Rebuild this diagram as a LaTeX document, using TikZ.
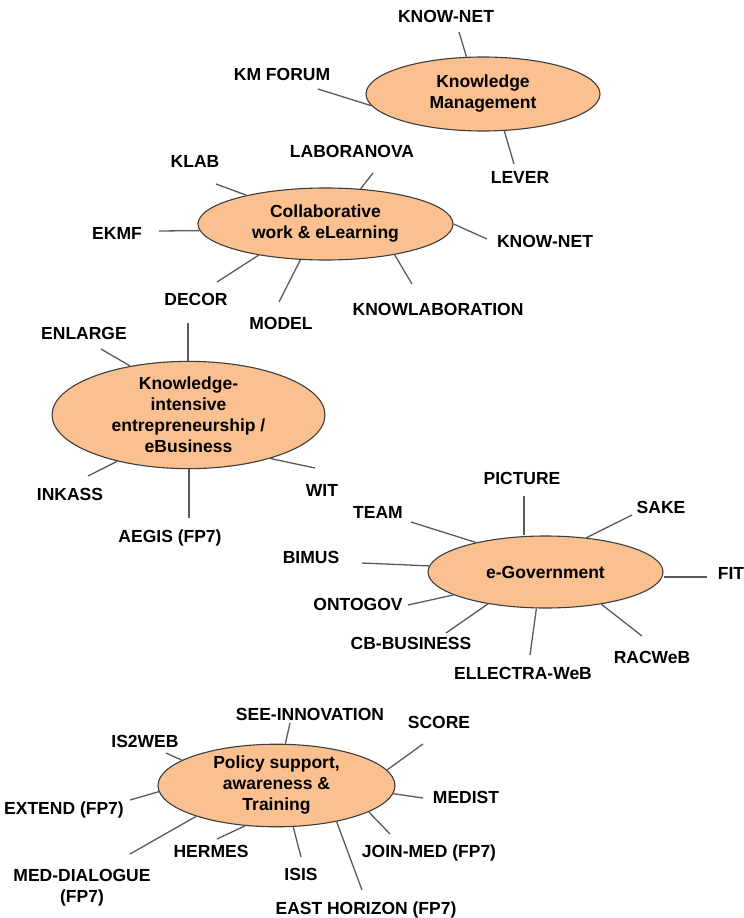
\documentclass[tikz,border=0pt]{standalone}
\usepackage{fontspec}
\setmainfont{Liberation Sans}
\usetikzlibrary{shapes.geometric}
\definecolor{peach}{HTML}{FAC090}
\definecolor{edgegray}{HTML}{5A5A5A}
\definecolor{rimgray}{HTML}{3C3C3C}
\begin{document}
\begin{tikzpicture}[x=1pt,y=-1pt,
  topic/.style={ellipse,draw=rimgray,line width=1.1pt,fill=peach,inner sep=0pt,
    align=center,font=\fontsize{17.5}{21}\selectfont\bfseries},
  proj/.style={inner sep=0pt,text height=12.6pt,text depth=0pt,
    font=\fontsize{17.5}{21}\selectfont\bfseries},
  projm/.style={inner sep=0pt,align=center,
    font=\fontsize{17.5}{21}\selectfont\bfseries},
  link/.style={draw=edgegray,line width=1.3pt}]
\useasboundingbox (0,0) rectangle (744,918);

% ---------- topics ----------
\node[topic,minimum width=234pt,minimum height=74pt] (km) at (483,94) {Knowledge\\Management};
\node[topic,minimum width=255pt,minimum height=72pt] (cw) at (325.5,224) {Collaborative\\work \& eLearning};
\node[topic,minimum width=273pt,minimum height=96pt] (ke) at (188.5,415) {Knowledge-\\intensive\\entrepreneurship /\\eBusiness};
\node[topic,minimum width=235pt,minimum height=72pt] (eg) at (545.5,572) {e-Government};
\node[topic,minimum width=237pt,minimum height=71pt] (ps) at (276.5,785.5) {Policy support,\\awareness \&\\Training};

% ---------- Knowledge Management ----------
\node[proj] (knownet1) at (446,16) {KNOW-NET};
\node[proj] (kmforum) at (282,74) {KM FORUM};
\node[proj] (lever) at (520,177) {LEVER};
\coordinate (c-knownet1) at (459,32);
\coordinate (c-kmforum) at (318,89);
\coordinate (c-lever) at (514,164);
\draw[link] (c-knownet1) -- (km.114);
\draw[link] (c-kmforum) -- (km.186);
\draw[link] (c-lever) -- (km.300.7);

% ---------- Collaborative work ----------
\node[proj] (klab) at (195,161) {KLAB};
\node[proj] (laboranova) at (352,151) {LABORANOVA};
\node[proj] (ekmf) at (117,233) {EKMF};
\node[proj] (knownet2) at (545,241) {KNOW-NET};
\node[proj] (decor) at (196,299) {DECOR};
\node[proj] (model) at (281,323) {MODEL};
\node[proj] (knowlab) at (438,309) {KNOWLABORATION};
\coordinate (c-klab) at (216,184);
\coordinate (c-laboranova) at (373,173);
\coordinate (c-ekmf) at (159,231);
\coordinate (c-knownet2) at (487,239);
\coordinate (c-decor) at (217,282);
\coordinate (c-model) at (279,302);
\coordinate (c-knowlab) at (412,284);
\draw[link] (c-klab) -- (cw.160.3);
\draw[link] (c-laboranova) -- (cw.45.4);
\draw[link] (c-ekmf) -- (cw.183);
\draw[link] (c-knownet2) -- (cw.0);
\draw[link] (c-decor) -- (cw.205.7);
\draw[link] (c-model) -- (cw.235.8);
\draw[link] (c-knowlab) -- (cw.336.4);

% ---------- Knowledge-intensive entrepreneurship ----------
\node[proj] (enlarge) at (84,333) {ENLARGE};
\node[proj] (inkass) at (70,494) {INKASS};
\node[proj] (aegis) at (170,536) {AEGIS (FP7)};
\node[proj] (wit) at (322,490) {WIT};
\coordinate (c-decor2) at (188,323);
\coordinate (c-enlarge) at (101,349);
\coordinate (c-inkass) at (88,476);
\coordinate (c-aegis) at (189,518);
\coordinate (c-wit) at (315,468);
\draw[link] (c-decor2) -- (c-decor2 |- ke.north);
\draw[link] (c-enlarge) -- (ke.140.1);
\draw[link] (c-inkass) -- (ke.213.5);
\draw[link] (c-aegis) -- (c-aegis |- ke.south);
\draw[link] (c-wit) -- (ke.332.8);

% ---------- e-Government ----------
\node[proj] (picture) at (522,478) {PICTURE};
\node[proj] (sake) at (661,507) {SAKE};
\node[proj] (team) at (378,512) {TEAM};
\node[proj] (bimus) at (311,557) {BIMUS};
\node[proj] (fit) at (731,573) {FIT};
\node[proj] (ontogov) at (358,604) {ONTOGOV};
\node[proj] (cbbus) at (411,643) {CB-BUSINESS};
\node[proj] (ellectra) at (523,673) {ELLECTRA-WeB};
\node[proj] (racweb) at (652,657) {RACWeB};
\coordinate (c-picture) at (524,496);
\coordinate (c-sake) at (632,515);
\coordinate (c-team) at (411,522);
\coordinate (c-bimus) at (362,563);
\coordinate (c-fit) at (707,577);
\coordinate (c-ontogov) at (408,605);
\coordinate (c-cbbus) at (446,633);
\coordinate (c-ellectra) at (530,655);
\coordinate (c-racweb) at (642,636);
\draw[link] (c-picture) -- (c-picture |- eg.north);
\draw[link] (c-sake) -- (eg.40.1);
\draw[link] (c-team) -- (eg.157.7);
\draw[link] (c-bimus) -- (eg.177);
\draw[link] (c-fit) -- (c-fit -| eg.east);
\draw[link] (c-ontogov) -- (eg.194.4);
\draw[link] (c-cbbus) -- (eg.209.8);
\draw[link] (c-ellectra) -- (eg.256.9);
\draw[link] (c-racweb) -- (eg.330.9);

% ---------- Policy support ----------
\node[proj] (seeinno) at (310,714) {SEE-INNOVATION};
\node[proj] (score) at (439,722) {SCORE};
\node[proj] (is2web) at (145,741) {IS2WEB};
\node[proj] (medist) at (466,797) {MEDIST};
\node[proj] (extend) at (64,808) {EXTEND (FP7)};
\node[proj] (joinmed) at (429,851) {JOIN-MED (FP7)};
\node[projm] (meddial) at (82,888) {MED-DIALOGUE\\(FP7)};
\node[proj] (hermes) at (211,851) {HERMES};
\node[proj] (isis) at (301,874) {ISIS};
\node[proj] (easthor) at (366,908) {EAST HORIZON (FP7)};
\coordinate (c-seeinno) at (290,723);
\coordinate (c-score) at (423,744);
\coordinate (c-is2web) at (166,753);
\coordinate (c-medist) at (423,798);
\coordinate (c-extend) at (130,800);
\coordinate (c-joinmed) at (390,834);
\coordinate (c-meddial) at (130,854);
\coordinate (c-hermes) at (217,839);
\coordinate (c-isis) at (301,857);
\coordinate (c-easthor) at (362,890);
\draw[link] (c-seeinno) -- (ps.78.7);
\draw[link] (c-score) -- (ps.8.1);
\draw[link] (c-is2web) -- (ps.165.6);
\draw[link] (c-medist) -- (ps.356.8);
\draw[link] (c-extend) -- (ps.183.1);
\draw[link] (c-joinmed) -- (ps.344.3);
\draw[link] (c-meddial) -- (ps.201.3);
\draw[link] (c-hermes) -- (ps.232);
\draw[link] (c-isis) -- (ps.292.7);
\draw[link] (c-easthor) -- (ps.329);
\end{tikzpicture}
\end{document}
